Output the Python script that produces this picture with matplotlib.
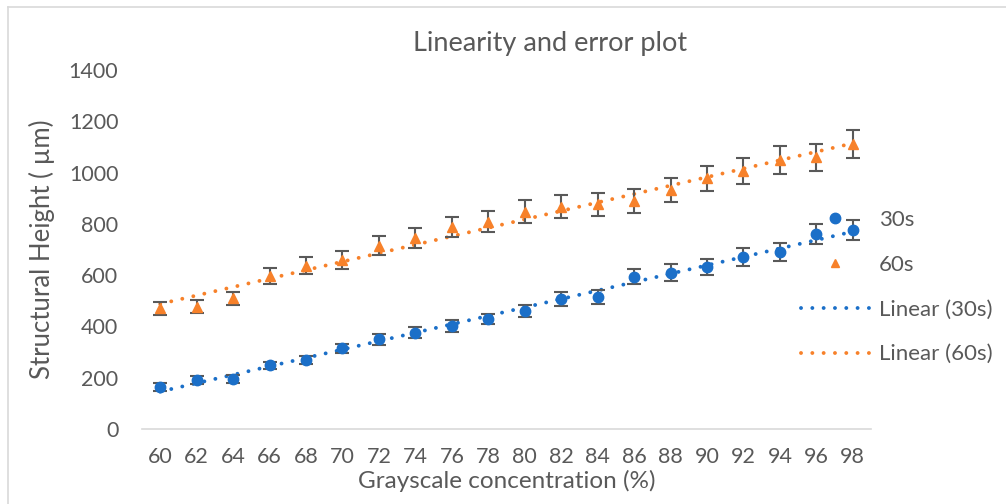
import numpy as np
import matplotlib
matplotlib.use('Agg')
import matplotlib.pyplot as plt
from matplotlib.lines import Line2D

plt.rcParams['font.family'] = ['Lato', 'DejaVu Sans']

conc = [60, 62, 64, 66, 68, 70, 72, 74, 76, 78, 80, 82, 84, 86, 88, 90, 92, 94, 96, 98]
h30 = [163, 191, 196, 248, 270, 315, 350, 376, 402, 428, 460, 506, 515, 594, 610, 632, 670, 692, 762, 776]
err30 = [16, 16, 16, 15, 16, 17, 21, 20, 22, 20, 25, 27, 27, 30, 32, 32, 34, 35, 39, 39]
h60 = [470, 477, 510, 598, 636, 659, 715, 744, 787, 809, 848, 867, 876, 889, 932, 978, 1006, 1049, 1060, 1110]
err60 = [25, 25, 26, 31, 33, 34, 37, 38, 40, 41, 44, 44, 45, 46, 47, 49, 51, 53, 52, 55]

blue = '#1b6fc8'
orange = '#f7812a'
grey = '#595959'
dots = (0, (0.01, 2.9))

fig = plt.figure(figsize=(10.06, 5.04), dpi=100)
ax = fig.add_axes([142 / 1006, 1 - 429 / 504, 729 / 1006, 359 / 504])

pos = np.arange(len(conc))

# trendlines like Excel's linear fit
for h, c in ((h30, blue), (h60, orange)):
    k, b = np.polyfit(pos, h, 1)
    ax.plot(pos, k * pos + b, color=c, linestyle=dots, linewidth=2.8,
            dash_capstyle='round', zorder=2)

ax.errorbar(pos, h30, yerr=err30, fmt='o', color=blue, markersize=7.5,
            ecolor=grey, elinewidth=1.5, capsize=5, capthick=1.5, zorder=3)
ax.errorbar(pos, h60, yerr=err60, fmt='^', color=orange, markersize=7,
            ecolor=grey, elinewidth=1.5, capsize=5, capthick=1.5, zorder=3)

ax.set_xlim(-0.5, len(conc) - 0.5)
ax.set_ylim(0, 1400)
ax.set_yticks(range(0, 1401, 200))
ax.set_xticks(pos)
ax.set_xticklabels([str(c) for c in conc])
ax.tick_params(length=0, labelsize=15.5, labelcolor=grey)
ax.tick_params(axis='x', pad=13)
ax.tick_params(axis='y', pad=17)
for s in ('top', 'right', 'left'):
    ax.spines[s].set_visible(False)
ax.spines['bottom'].set_color('#d9d9d9')
ax.spines['bottom'].set_linewidth(1.2)

ax.set_xlabel('Grayscale concentration (%)', fontsize=17.5, color=grey, labelpad=2)
ax.set_ylabel('Structural Height ( µm)', fontsize=18.5, color=grey, labelpad=10)
fig.text(550 / 1006, 1 - 43 / 504, 'Linearity and error plot', fontsize=19.5,
         color=grey, ha='center', va='center')

handles = [
    Line2D([], [], marker='o', color=blue, linestyle='none', markersize=7.5),
    Line2D([], [], marker='^', color=orange, linestyle='none', markersize=6),
    Line2D([], [], color=blue, linestyle=dots, linewidth=2.8, dash_capstyle='round'),
    Line2D([], [], color=orange, linestyle=dots, linewidth=2.8, dash_capstyle='round'),
]
labels = ['30s', '60s', 'Linear (30s)', 'Linear (60s)']
leg = fig.legend(handles, labels, loc='center left', bbox_to_anchor=(801 / 1006, 1 - 287 / 504),
                 frameon=False, fontsize=16, labelcolor=grey, labelspacing=1.12,
                 handlelength=3.1, handletextpad=0.4, borderpad=0, borderaxespad=0)

# chart border (only left and top visible in the crop)
fig.add_artist(Line2D([8 / 1006, 8 / 1006], [0, 1 - 7 / 504], transform=fig.transFigure,
                      color='#d9d9d9', linewidth=1.2))
fig.add_artist(Line2D([8 / 1006, 1], [1 - 7 / 504, 1 - 7 / 504], transform=fig.transFigure,
                      color='#d9d9d9', linewidth=1.2))

fig.savefig('out.png', dpi=100)
